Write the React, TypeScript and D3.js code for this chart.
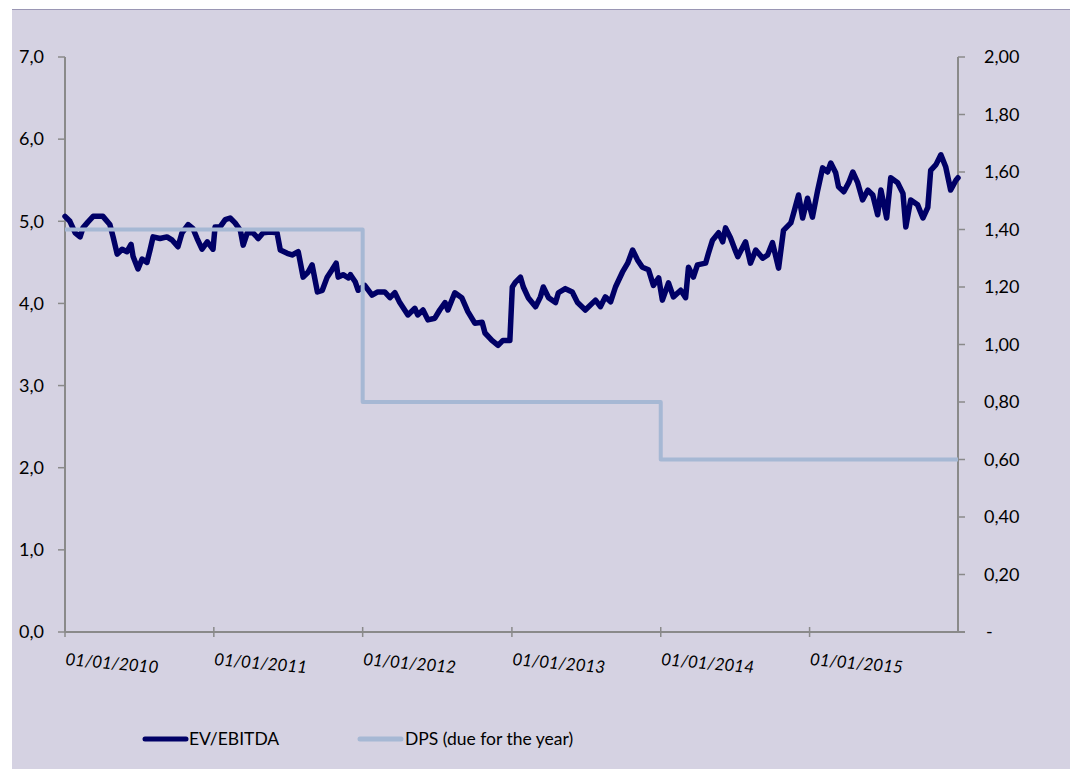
import React from "react";
import * as d3 from "d3";

// EV/EBITDA series
const evDates = [
  "2010-01-01","2010-01-13","2010-01-26","2010-02-07","2010-02-14","2010-02-26","2010-03-11","2010-04-04","2010-04-21","2010-04-29",
  "2010-05-09","2010-05-21","2010-06-02","2010-06-12","2010-06-17","2010-06-29","2010-07-09","2010-07-21","2010-07-29","2010-08-05",
  "2010-08-22","2010-09-08","2010-09-21","2010-10-05","2010-10-15","2010-10-30","2010-11-11","2010-11-21","2010-12-03","2010-12-16",
  "2010-12-30","2011-01-04","2011-01-16","2011-01-29","2011-02-10","2011-02-22","2011-03-07","2011-03-14","2011-03-24","2011-04-07",
  "2011-04-20","2011-05-02","2011-05-19","2011-06-05","2011-06-13","2011-06-30","2011-07-12","2011-07-27","2011-08-08","2011-08-20",
  "2011-08-30","2011-09-12","2011-09-24","2011-10-06","2011-10-18","2011-10-28","2011-11-02","2011-11-14","2011-11-27","2011-12-02",
  "2011-12-14","2011-12-21","2012-01-06","2012-01-24","2012-02-07","2012-02-24","2012-03-08","2012-03-20","2012-04-01","2012-04-21",
  "2012-05-08","2012-05-15","2012-05-28","2012-06-09","2012-06-26","2012-07-08","2012-07-21","2012-07-28","2012-08-14","2012-08-31",
  "2012-09-15","2012-10-02","2012-10-20","2012-10-27","2012-11-13","2012-11-28","2012-12-10","2012-12-27","2013-01-02","2013-01-10",
  "2013-01-22","2013-01-29","2013-02-10","2013-02-28","2013-03-12","2013-03-19","2013-04-01","2013-04-18","2013-04-25","2013-05-12",
  "2013-05-29","2013-06-11","2013-06-30","2013-07-25","2013-08-06","2013-08-18","2013-08-31","2013-09-12","2013-09-29","2013-10-12",
  "2013-10-24","2013-11-05","2013-11-17","2013-12-02","2013-12-14","2013-12-27","2014-01-05","2014-01-20","2014-02-01","2014-02-19",
  "2014-03-03","2014-03-10","2014-03-22","2014-04-01","2014-04-21","2014-04-28","2014-05-08","2014-05-23","2014-06-02","2014-06-09",
  "2014-06-21","2014-07-04","2014-07-09","2014-07-28","2014-08-09","2014-08-22","2014-09-08","2014-09-20","2014-10-02","2014-10-17",
  "2014-10-29","2014-11-16","2014-11-23","2014-12-05","2014-12-15","2014-12-27","2015-01-08","2015-01-21","2015-02-02","2015-02-14",
  "2015-02-22","2015-03-06","2015-03-13","2015-03-26","2015-04-07","2015-04-17","2015-04-29","2015-05-11","2015-05-24","2015-06-05",
  "2015-06-17","2015-06-25","2015-07-09","2015-07-19","2015-08-05","2015-08-18","2015-08-25","2015-09-06","2015-09-23","2015-10-06",
  "2015-10-18","2015-10-25","2015-11-07","2015-11-19","2015-12-01","2015-12-13","2015-12-26","2015-12-31"
];
const evValues = [
  5.06,5.00,4.86,4.81,4.92,4.99,5.06,5.06,4.96,4.81,
  4.60,4.66,4.63,4.72,4.57,4.42,4.54,4.50,4.66,4.81,
  4.79,4.81,4.77,4.69,4.86,4.96,4.91,4.79,4.66,4.75,
  4.66,4.93,4.93,5.02,5.04,4.98,4.89,4.71,4.86,4.86,
  4.79,4.86,4.87,4.86,4.65,4.61,4.59,4.63,4.32,4.38,
  4.47,4.14,4.16,4.32,4.41,4.49,4.32,4.35,4.31,4.35,
  4.26,4.16,4.22,4.10,4.14,4.14,4.07,4.13,4.01,3.86,
  3.94,3.86,3.92,3.80,3.82,3.92,4.01,3.92,4.13,4.07,
  3.90,3.76,3.77,3.64,3.55,3.49,3.55,3.55,4.20,4.26,
  4.32,4.20,4.07,3.96,4.08,4.20,4.07,4.01,4.13,4.18,
  4.14,4.01,3.92,4.04,3.96,4.08,4.02,4.20,4.38,4.49,
  4.65,4.53,4.44,4.41,4.22,4.31,4.04,4.25,4.08,4.16,
  4.07,4.44,4.32,4.47,4.49,4.61,4.77,4.86,4.75,4.92,
  4.80,4.63,4.57,4.75,4.49,4.65,4.55,4.59,4.74,4.43,
  4.89,4.98,5.10,5.32,5.04,5.28,5.05,5.38,5.65,5.60,
  5.71,5.59,5.42,5.36,5.47,5.60,5.47,5.26,5.38,5.32,
  5.08,5.38,5.04,5.53,5.47,5.34,4.93,5.26,5.20,5.04,
  5.17,5.62,5.69,5.81,5.66,5.38,5.50,5.53
];

// DPS (due for the year), step series
const dpsDates = ["2010-01-01", "2012-01-01", "2014-01-01", "2015-12-31"];
const dpsValues = [1.4, 0.8, 0.6, 0.6];

const leftTicks = [0, 1, 2, 3, 4, 5, 6, 7];
const rightTicks = [0, 0.2, 0.4, 0.6, 0.8, 1.0, 1.2, 1.4, 1.6, 1.8, 2.0];
const xTickDates = ["2010-01-01", "2011-01-01", "2012-01-01", "2013-01-01", "2014-01-01", "2015-01-01"];

const seriesNames = ["EV/EBITDA", "DPS (due for the year)"];

const W = 1070;
const H = 769;
const BG = "#d5d2e2";
const AXIS = "#8a8a8a";
const DARK = "#000066";
const LIGHT = "#a6b8d4";
const FONT = "Lato, 'Open Sans', sans-serif";

const parse = d3.utcParse("%Y-%m-%d");
const fmtDate = d3.utcFormat("%d/%m/%Y");

export default function App() {
  const left = 65, right = 958, top = 57, bottom = 632;
  const x = d3.scaleUtc().domain([parse("2010-01-01")!, parse("2015-12-31")!]).range([left, right]);
  const yL = d3.scaleLinear().domain([0, 7]).range([bottom, top]);
  const yR = d3.scaleLinear().domain([0, 2]).range([bottom, top]);

  const evData = evDates.map((d, i) => ({ d: parse(d)!, v: evValues[i] }));
  const dpsData = dpsDates.map((d, i) => ({ d: parse(d)!, v: dpsValues[i] }));

  const evLine = d3.line<{ d: Date; v: number }>().x((p) => x(p.d)).y((p) => yL(p.v));
  const dpsLine = d3
    .line<{ d: Date; v: number }>()
    .x((p) => x(p.d))
    .y((p) => yR(p.v))
    .curve(d3.curveStepAfter);

  const fmtL = (v: number) => v.toFixed(1).replace(".", ",");
  const fmtR = (v: number) => (v === 0 ? "-" : v.toFixed(2).replace(".", ","));

  return (
    <svg
      width={W}
      height={H}
      style={{ position: "absolute", left: 0, top: 0, background: "#fff" }}
      fontFamily={FONT}
    >
      <rect x={12} y={9} width={W - 12} height={H - 9} fill={BG} />
      <line x1={12} x2={W} y1={9.5} y2={9.5} stroke="#9a96b4" strokeWidth={1} />

      {/* left axis */}
      <line x1={left} x2={left} y1={top} y2={bottom} stroke={AXIS} strokeWidth={2} />
      {leftTicks.map((t) => (
        <g key={"l" + t}>
          <line x1={left - 7} x2={left} y1={yL(t)} y2={yL(t)} stroke={AXIS} strokeWidth={1.5} />
          <text x={44} y={yL(t)} dy="0.35em" textAnchor="end" fontSize={18} fill="#000">
            {fmtL(t)}
          </text>
        </g>
      ))}

      {/* right axis */}
      <line x1={right} x2={right} y1={top} y2={bottom} stroke={AXIS} strokeWidth={2} />
      {rightTicks.map((t) => (
        <g key={"r" + t}>
          <line x1={right} x2={right + 7} y1={yR(t)} y2={yR(t)} stroke={AXIS} strokeWidth={1.5} />
          <text x={t === 0 ? 986 : 984} y={yR(t)} dy="0.35em" textAnchor="start" fontSize={18} fill="#000">
            {fmtR(t)}
          </text>
        </g>
      ))}

      {/* x axis */}
      <line x1={left} x2={right + 7} y1={bottom} y2={bottom} stroke={AXIS} strokeWidth={2} />
      {xTickDates.map((s) => {
        const px = x(parse(s)!);
        return (
          <g key={s}>
            <line x1={px} x2={px} y1={bottom - 5} y2={bottom + 5} stroke={AXIS} strokeWidth={1.5} />
            <text
              transform={`translate(${px},665) rotate(5)`}
              fontSize={17}
              fontStyle="italic"
              fill="#000"
            >
              {fmtDate(parse(s)!)}
            </text>
          </g>
        );
      })}

      {/* series */}
      <path
        d={evLine(evData) || ""}
        fill="none"
        stroke={DARK}
        strokeWidth={5.5}
        strokeLinejoin="round"
        strokeLinecap="round"
      />
      <path
        d={dpsLine(dpsData) || ""}
        fill="none"
        stroke={LIGHT}
        strokeWidth={4}
        strokeLinejoin="round"
      />

      {/* legend */}
      <line x1={145} x2={186} y1={739} y2={739} stroke={DARK} strokeWidth={5} strokeLinecap="round" />
      <text x={189} y={739} dy="0.35em" fontSize={17.5} fill="#000">
        {seriesNames[0]}
      </text>
      <line x1={360} x2={401} y1={739} y2={739} stroke={LIGHT} strokeWidth={5} strokeLinecap="round" />
      <text x={405} y={739} dy="0.35em" fontSize={17.5} fill="#000">
        {seriesNames[1]}
      </text>
    </svg>
  );
}
